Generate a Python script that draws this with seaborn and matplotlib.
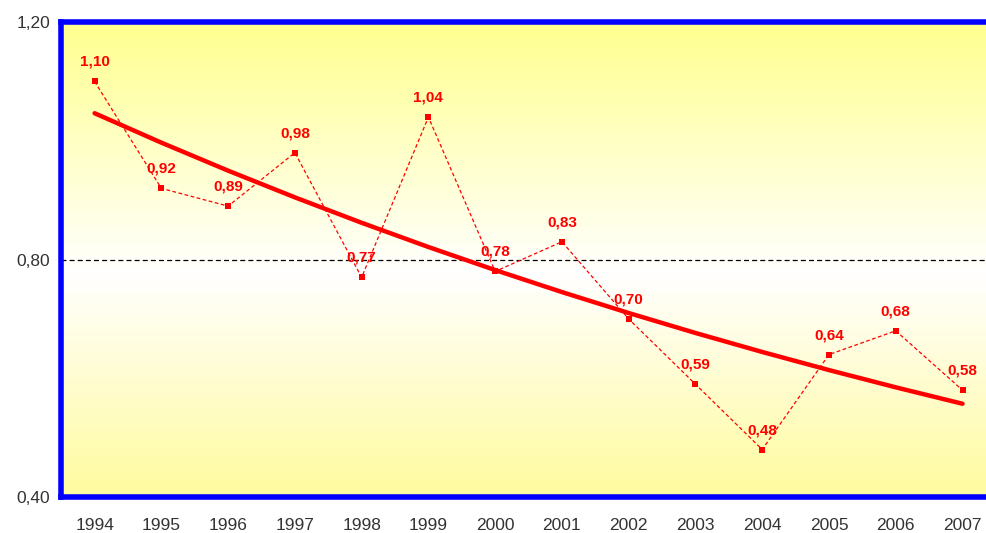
import numpy as np
import pandas as pd
import matplotlib
matplotlib.use("Agg")
import matplotlib.pyplot as plt
from matplotlib.colors import LinearSegmentedColormap
import seaborn as sns

years = ["1994", "1995", "1996", "1997", "1998", "1999", "2000",
         "2001", "2002", "2003", "2004", "2005", "2006", "2007"]
values = [1.10, 0.92, 0.89, 0.98, 0.77, 1.04, 0.78,
          0.83, 0.70, 0.59, 0.48, 0.64, 0.68, 0.58]
reference_level = 0.80
y_ticks = [0.40, 0.80, 1.20]

sns.set_theme(style="white")
plt.rcParams["font.family"] = ["Liberation Sans", "DejaVu Sans"]

df = pd.DataFrame({"pos": np.arange(len(years)), "value": values})

# exponential trend fitted to the series
coef = np.polyfit(df["pos"], np.log(df["value"]), 1)
df["trend"] = np.exp(np.polyval(coef, df["pos"]))

fig = plt.figure(figsize=(9.87, 5.33), dpi=100)
ax = fig.add_axes([0.0620, 0.0675, 0.947, 0.891])
ax.set_xlim(-0.5, len(years) - 0.5)
ax.set_ylim(0.40, 1.20)

# vertical yellow-white-yellow gradient backdrop
cmap = LinearSegmentedColormap.from_list(
    "bg", [(0.0, (1.0, 0.985, 0.62)), (0.47, (1.0, 1.0, 1.0)),
           (1.0, (1.0, 1.0, 0.56))])
grad = np.linspace(0, 1, 256).reshape(-1, 1)
ax.imshow(grad, aspect="auto", cmap=cmap, origin="lower",
          extent=(-0.5, len(years) - 0.5, 0.40, 1.20), zorder=0)

ax.axhline(reference_level, color="black", lw=0.9, ls=(0, (4, 2.5)), zorder=1)

sns.lineplot(data=df, x="pos", y="value", ax=ax, color="#ff0000", lw=0.9,
             ls=(0, (3, 2)), marker="s", markersize=5, markeredgewidth=0,
             zorder=3)
sns.lineplot(data=df, x="pos", y="trend", ax=ax, color="#ff0000", lw=3.2,
             zorder=2)

for p, v in zip(df["pos"], df["value"]):
    ax.annotate(f"{v:.2f}".replace(".", ","), (p, v), xytext=(0, 9),
                textcoords="offset points", ha="center", va="bottom",
                color="#ff0000", fontsize=11, fontweight="bold", zorder=4)

ax.set_xticks(np.arange(len(years)))
ax.set_xticklabels(years)
ax.set_xticks(np.arange(len(years) + 1) - 0.5, minor=True)
ax.tick_params(axis="x", which="major", length=0, pad=15,
               labelsize=12.5, labelcolor="#333333")
ax.tick_params(axis="x", which="minor", length=4, width=1.2, color="#0000ff",
               direction="out")
ax.set_yticks(y_ticks)
ax.set_yticklabels([f"{t:.2f}".replace(".", ",") for t in y_ticks])
ax.tick_params(axis="y", length=4, width=1.2, color="#0000ff",
               direction="out", labelsize=12.5, labelcolor="#333333", pad=4)
ax.set_xlabel("")
ax.set_ylabel("")

for s in ax.spines.values():
    s.set_visible(True)
    s.set_color("#0000ff")
    s.set_linewidth(4)

fig.savefig("out.png", dpi=100, facecolor="white")
